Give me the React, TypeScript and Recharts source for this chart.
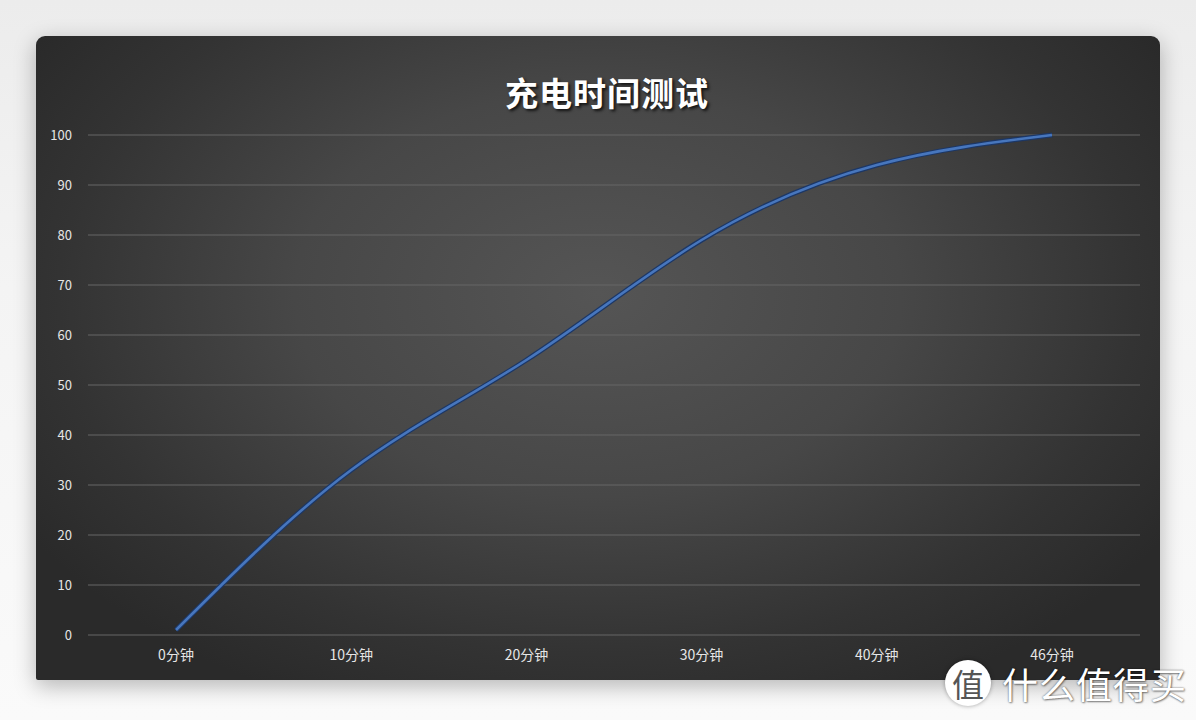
import React from 'react';
import { LineChart, Line, XAxis, YAxis, CartesianGrid } from 'recharts';

// charging time -> battery %
const categories = ['0分钟', '10分钟', '20分钟', '30分钟', '40分钟', '46分钟'];
const batteryLevels = [1, 33, 55, 79, 94, 100];
const yTicks = [0, 10, 20, 30, 40, 50, 60, 70, 80, 90, 100];

const data = categories.map((name, i) => ({ name, value: batteryLevels[i] }));

const FONT = '"Noto Sans CJK SC", "Noto Sans", sans-serif';

export default function App() {
  return (
    <div
      style={{
        position: 'absolute',
        left: 0,
        top: 0,
        width: 1196,
        height: 720,
        overflow: 'hidden',
        background: 'linear-gradient(#ececec, #f4f4f4 40%, #fafafa)',
        fontFamily: FONT,
      }}
    >
      {/* dark panel */}
      <div
        style={{
          position: 'absolute',
          left: 36,
          top: 36,
          width: 1124,
          height: 644,
          borderRadius: '9px 9px 2px 2px',
          background: 'radial-gradient(ellipse 60% 70% at 50% 40%, #555555 0%, #474747 45%, #333333 80%, #2a2a2a 100%)',
          boxShadow: '0 6px 22px rgba(0,0,0,0.28)',
          overflow: 'hidden',
        }}
      >
        <div
          style={{
            position: 'absolute',
            left: 0,
            width: 1142,
            top: 32,
            textAlign: 'center',
            color: '#ffffff',
            fontSize: 33,
            fontWeight: 'bold',
            letterSpacing: 1,
            textShadow: '2px 2px 3px rgba(0,0,0,0.75)',
          }}
        >
          充电时间测试
        </div>
        <LineChart
          width={1124}
          height={644}
          data={data}
          margin={{ top: 99, right: 20, bottom: 0, left: 0 }}
          style={{ position: 'absolute', left: 0, top: 0 }}
        >
          <CartesianGrid vertical={false} stroke="#666666" strokeWidth={1} />
          <XAxis
            dataKey="name"
            height={45}
            axisLine={false}
            tickLine={false}
            tickMargin={9}
            padding={{ left: 88, right: 88 }}
            tick={{ fill: '#e6e6e6', fontSize: 14, fontFamily: FONT }}
          />
          <YAxis
            width={52}
            domain={[0, 100]}
            ticks={yTicks}
            axisLine={false}
            tickLine={false}
            tickMargin={10}
            tick={{ fill: '#e6e6e6', fontSize: 13, fontFamily: FONT }}
          />
          <Line
            type="natural"
            dataKey="value"
            stroke="#1c3766"
            strokeWidth={5}
            dot={false}
            activeDot={false}
            isAnimationActive={false}
          />
          <Line
            type="natural"
            dataKey="value"
            stroke="#4776bd"
            strokeWidth={2.6}
            dot={false}
            activeDot={false}
            isAnimationActive={false}
          />
        </LineChart>
      </div>

      {/* watermark */}
      <div
        style={{
          position: 'absolute',
          left: 945,
          top: 660,
          width: 46,
          height: 46,
          borderRadius: '50%',
          background: '#ffffff',
          boxShadow: '0 0 4px rgba(0,0,0,0.35)',
          color: '#555555',
          fontSize: 32,
          lineHeight: '46px',
          textAlign: 'center',
        }}
      >
        值
      </div>
      <div
        style={{
          position: 'absolute',
          left: 1002,
          top: 660,
          color: '#ffffff',
          fontSize: 36,
          lineHeight: '46px',
          letterSpacing: 1,
          textShadow: '0 0 2px rgba(0,0,0,0.6), 1px 1px 2px rgba(0,0,0,0.4)',
        }}
      >
        什么值得买
      </div>
    </div>
  );
}
